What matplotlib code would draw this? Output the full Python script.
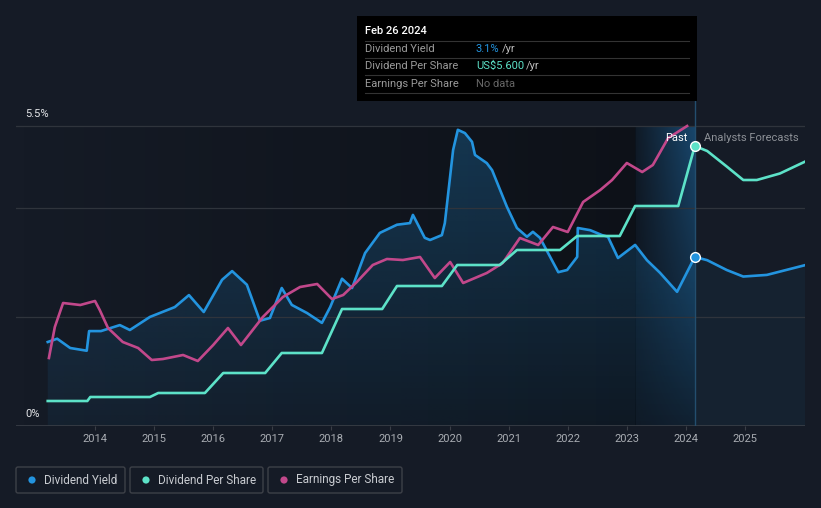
import numpy as np
import matplotlib
matplotlib.use("Agg")
import matplotlib.pyplot as plt
from matplotlib.patches import Rectangle, FancyBboxPatch, Circle

plt.rcParams['font.family'] = ['Roboto', 'DejaVu Sans']

# ---- data (decimal years) ----
yield_years = [2013.20, 2013.36, 2013.58, 2013.86, 2013.90, 2014.10, 2014.42, 2014.59, 2014.93,
               2015.35, 2015.59, 2015.84, 2016.15, 2016.32, 2016.57, 2016.79, 2016.96, 2017.16,
               2017.33, 2017.59, 2017.84, 2017.98, 2018.18, 2018.35, 2018.57, 2018.82, 2019.11,
               2019.33, 2019.38, 2019.58, 2019.67, 2019.87, 2019.92, 2020.06, 2020.14, 2020.26,
               2020.38, 2020.43, 2020.63, 2020.72, 2020.97, 2021.14, 2021.31, 2021.41, 2021.53,
               2021.84, 2021.99, 2022.16, 2022.17, 2022.38, 2022.58, 2022.68, 2022.85, 2023.14,
               2023.34, 2023.56, 2023.85, 2024.15]
yield_vals = [1.54, 1.60, 1.43, 1.38, 1.74, 1.74, 1.85, 1.76, 2.00,
              2.18, 2.40, 2.09, 2.68, 2.84, 2.59, 1.93, 1.98, 2.53,
              2.22, 2.07, 1.89, 2.18, 2.70, 2.53, 3.17, 3.54, 3.69,
              3.72, 3.87, 3.45, 3.41, 3.50, 3.72, 5.06, 5.43, 5.37,
              5.21, 4.97, 4.82, 4.69, 4.02, 3.63, 3.47, 3.56, 3.45,
              2.82, 2.86, 3.10, 3.63, 3.59, 3.50, 3.47, 3.08, 3.32,
              3.04, 2.81, 2.46, 3.10]
yield_fc_years = [2024.15, 2024.36, 2024.69, 2024.97, 2025.37, 2026.02]
yield_fc_vals = [3.10, 3.04, 2.86, 2.74, 2.77, 2.95]

dps_years = [2013.20, 2013.87, 2013.92, 2014.93, 2015.07, 2015.86, 2016.17, 2016.88,
             2017.16, 2017.84, 2018.18, 2018.86, 2019.11, 2019.87, 2020.13, 2020.85,
             2021.14, 2021.87, 2022.16, 2022.88, 2023.14, 2023.87, 2024.15]
dps_vals = [0.50, 0.50, 0.58, 0.58, 0.66, 0.66, 1.06, 1.06,
            1.46, 1.46, 2.34, 2.34, 2.80, 2.80, 3.22, 3.22,
            3.52, 3.52, 3.80, 3.80, 4.40, 4.40, 5.60]
dps_fc_years = [2024.15, 2024.36, 2024.69, 2024.97, 2025.20, 2025.59, 2026.02]
dps_fc_vals = [5.60, 5.50, 5.19, 4.92, 4.92, 5.05, 5.29]

eps_years = [2013.22, 2013.32, 2013.46, 2013.75, 2014.00, 2014.08, 2014.22, 2014.47, 2014.73,
             2014.96, 2015.15, 2015.49, 2015.74, 2016.00, 2016.25, 2016.47, 2016.84, 2017.18,
             2017.47, 2017.76, 2018.01, 2018.20, 2018.43, 2018.70, 2018.94, 2019.21, 2019.50,
             2019.75, 2020.01, 2020.23, 2020.63, 2020.90, 2021.19, 2021.50, 2021.75, 2022.00,
             2022.26, 2022.55, 2022.75, 2023.00, 2023.26, 2023.44, 2023.70, 2024.02]
eps_vals = [1.36, 1.98, 2.46, 2.42, 2.50, 2.32, 1.96, 1.68, 1.56,
            1.32, 1.34, 1.42, 1.30, 1.62, 1.96, 1.62, 2.18, 2.58,
            2.78, 2.84, 2.54, 2.62, 2.88, 3.22, 3.34, 3.32, 3.38,
            2.96, 3.28, 2.86, 3.06, 3.26, 3.76, 3.62, 3.98, 3.88,
            4.48, 4.72, 4.92, 5.26, 5.08, 5.22, 5.76, 6.00]

years_ticks = list(range(2014, 2026))
hover_year = 2024.15
past_start = 2023.14

# ---- colours ----
bg = '#151b26'
c_yield = '#2394df'
c_dps = '#5de2c8'
c_eps = '#c2488b'

W, H = 821, 508
fig = plt.figure(figsize=(W / 100, H / 100), dpi=100, facecolor=bg)

ax = fig.add_axes([16 / W, 82 / H, 789 / W, 326 / H])
ax.set_facecolor(bg)
ymax = 326 / 54.545
top = 5.5
x0, x1 = 2012.663, 2026.015
ax.set_xlim(x0, x1)
ax.set_ylim(0, ymax)
for s in ax.spines.values():
    s.set_visible(False)
ax.set_yticks([])
ax.set_xticks(years_ticks)
ax.set_xticklabels([str(y) for y in years_ticks])
ax.tick_params(axis='x', length=3, color='#3a3f47', pad=3, labelcolor='#a9adb3', labelsize=8)

# darker past region, gradient to the right
grad = np.zeros((1, 256, 4))
grad[..., 3] = np.linspace(0, 0.36, 256)
ax.imshow(grad, extent=[x0, past_start, 0, top], aspect='auto', zorder=0.1, interpolation='bilinear')
dark = np.zeros((1, 2, 4))
dark[..., 3] = 0.30
ax.imshow(dark, extent=[past_start, hover_year, 0, top], aspect='auto', zorder=0.1)

# highlighted band last year
nx_, ny_ = 64, 128
xf = np.linspace(0, 1, nx_)[None, :]
yf = np.linspace(1, 0, ny_)[:, None]
band = np.zeros((ny_, nx_, 4))
band[..., 0] = 0.10
band[..., 1] = 0.30
band[..., 2] = 0.46
band[..., 3] = (0.15 + 0.85 * xf) * (0.15 + 0.75 * yf)
ax.imshow(band, extent=[past_start, hover_year, 0, top], aspect='auto', zorder=0.2, interpolation='bilinear')

# gradient fill under dividend yield (past)
poly = ax.fill_between(yield_years, yield_vals, 0, facecolor='none', edgecolor='none')
fill = np.zeros((128, 2, 4))
fill[..., 0] = 0x23 / 255
fill[..., 1] = 0x94 / 255
fill[..., 2] = 0xdf / 255
fill[..., 3] = np.linspace(0.27, 0.06, 128)[:, None]
im = ax.imshow(fill, extent=[x0, x1, 0, top], aspect='auto', zorder=0.5, interpolation='bilinear')
im.set_clip_path(poly.get_paths()[0], transform=ax.transData)
ax.fill_between(yield_fc_years, yield_fc_vals, 0, facecolor=c_yield, alpha=0.06, edgecolor='none', zorder=0.5)

# grid
for g in [2, 4, 5.5]:
    ax.axhline(g, color='#2f343c', lw=0.9, zorder=1)
ax.axhline(0, color='#3a3f47', lw=1.2, zorder=1)
ax.axvline(hover_year, color='#234e6e', lw=1, zorder=1.5)

lw = 1.9
ax.plot(yield_years, yield_vals, color=c_yield, lw=lw, solid_joinstyle='round', zorder=3)
ax.plot(yield_fc_years, yield_fc_vals, color=c_yield, lw=lw, solid_joinstyle='round', zorder=3)

ax2 = ax.twinx()
ax2.set_ylim(0, 326 * 0.02)
ax2.set_yticks([])
for s in ax2.spines.values():
    s.set_visible(False)
ax2.plot(eps_years, eps_vals, color=c_eps, lw=lw, solid_joinstyle='round', zorder=2)
ax2.plot(dps_years, dps_vals, color=c_dps, lw=lw, solid_joinstyle='round', zorder=3)
ax2.plot(dps_fc_years, dps_fc_vals, color=c_dps, lw=lw, solid_joinstyle='round', zorder=3)
ax2.plot([hover_year], [dps_vals[-1]], 'o', ms=7, color=c_dps, mec='white', mew=1, zorder=5)
ax.plot([hover_year], [yield_vals[-1]], 'o', ms=7, color=c_yield, mec='white', mew=1, zorder=5)

# ---- overlay for labels, tooltip and legend (pixel coords) ----
ov = fig.add_axes([0, 0, 1, 1], zorder=10)
ov.set_xlim(0, W)
ov.set_ylim(H, 0)
ov.axis('off')
ov.patch.set_visible(False)

ov.text(25, 114, '5.5%', color='#e4e6e9', fontsize=8, va='center')
ov.text(25, 414, '0%', color='#e4e6e9', fontsize=8, va='center')
ov.text(687, 138, 'Past', color='white', fontsize=8, va='center', ha='right')
ov.text(704, 138, 'Analysts Forecasts', color='#8c9096', fontsize=8, va='center')

# tooltip
ov.add_patch(Rectangle((357, 16), 340, 85, facecolor='black', edgecolor='none'))
ov.text(365, 31, 'Feb 26 2024', color='white', fontsize=8, va='center', fontweight='medium')
for yy in [41, 58, 75, 93]:
    ov.plot([365, 689], [yy, yy], color='#333333', lw=0.8)
ov.text(365, 49, 'Dividend Yield', color='#9a9a9a', fontsize=8, va='center')
ov.text(365, 66, 'Dividend Per Share', color='#9a9a9a', fontsize=8, va='center')
ov.text(365, 84, 'Earnings Per Share', color='#9a9a9a', fontsize=8, va='center')
ov.text(476, 49, '3.1%', color=c_yield, fontsize=8, va='center')
ov.text(502, 49, '/yr', color='#bdbdbd', fontsize=8, va='center')
ov.text(476, 66, 'US$5.600', color=c_dps, fontsize=8, va='center')
ov.text(526, 66, '/yr', color='#bdbdbd', fontsize=8, va='center')
ov.text(476, 84, 'No data', color='#666666', fontsize=8, va='center')

# legend
legend_items = [('Dividend Yield', c_yield, 16, 125),
                ('Dividend Per Share', c_dps, 130, 263),
                ('Earnings Per Share', c_eps, 268, 402)]
for label, col, lx, rx in legend_items:
    ov.add_patch(FancyBboxPatch((lx, 467), rx - lx, 26, boxstyle='round,pad=0,rounding_size=2',
                                facecolor='none', edgecolor='#3d4148', lw=1))
    ov.add_patch(Circle((lx + 16, 480), 3.6, facecolor=col, edgecolor='none'))
    ov.text(lx + 28, 480, label, color='#c9ccd1', fontsize=8.5, va='center')

fig.savefig('out.png', dpi=100, facecolor=bg)
